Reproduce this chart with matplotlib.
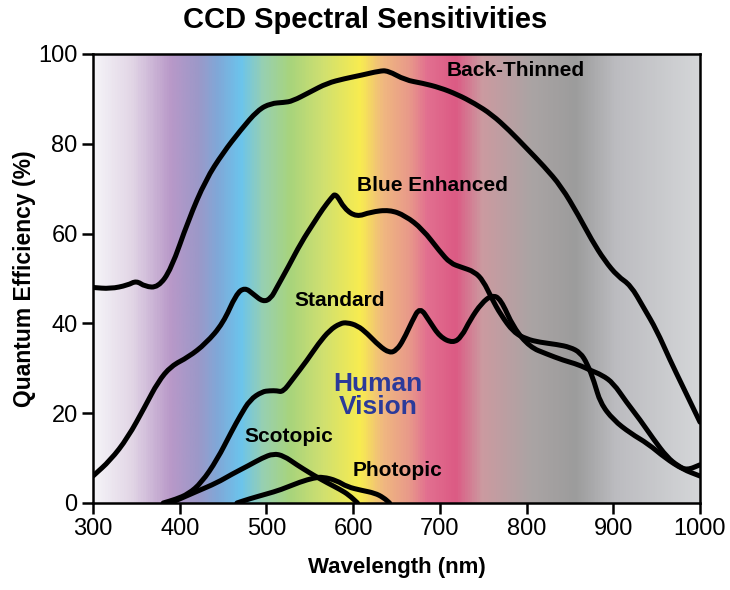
import numpy as np
import matplotlib
matplotlib.use("Agg")
import matplotlib.pyplot as plt
from matplotlib.colors import LinearSegmentedColormap
from matplotlib.path import Path
from matplotlib.patches import PathPatch

plt.rcParams['font.family'] = ['Liberation Sans', 'DejaVu Sans']

# === DATA ===
bt_wl = [300, 320, 340, 350, 360, 375, 390, 410, 430, 450, 470, 490, 505, 520, 530, 550, 570,
         590, 610, 630, 640, 660, 680, 700, 720, 740, 760, 780, 800, 820, 840, 860, 875, 890,
         905, 920, 935, 950, 965, 980, 1000]
bt_qe = [48, 47.7, 48.5, 49.5, 48.2, 48, 52, 63, 72, 78, 83, 87.5, 89, 89.2, 89.5, 91.5, 93.5,
         94.5, 95.3, 96.2, 96.3, 94.2, 93.5, 92.5, 91, 89, 86.5, 83, 79, 75, 70.5, 64, 58.6, 54,
         50.5, 48.5, 43.5, 38.5, 32, 26, 18]

be_wl = [300, 320, 340, 360, 375, 390, 410, 430, 450, 465, 475, 485, 496, 505, 512, 525, 540,
         555, 565, 575, 580, 590, 604, 620, 642, 660, 680, 700, 712, 725, 740, 750, 760, 770,
         785, 800, 815, 835, 850, 862, 870, 878, 885, 900, 920, 940, 960, 980, 1000]
be_qe = [6, 9.5, 14.5, 21.5, 27, 30.5, 32.5, 35.5, 40, 46.5, 48, 46.5, 44.8, 45.5, 48, 52.5, 58,
         62.5, 65.5, 68, 69, 65.5, 63.7, 64.8, 65.3, 64, 61, 56, 53.4, 52.5, 51.5, 49.5, 45.5,
         42, 38, 36.5, 35.8, 35.3, 34.7, 33.5, 31, 27, 22.3, 18.5, 15.5, 13.2, 10, 7.5, 6]

st_wl = [381, 395, 410, 425, 443, 460, 470, 481, 495, 504, 512, 519, 530, 547, 560, 573, 585,
         593, 605, 616, 630, 642, 650, 658, 668, 677, 688, 700, 715, 725, 735, 748, 760, 770,
         785, 804, 823, 842, 860, 873, 887, 900, 915, 931, 946, 962, 975, 985, 1000]
st_qe = [0, 0.8, 2, 4.5, 9.6, 16, 19.5, 23, 24.8, 25, 25, 24.7, 27.5, 31.8, 35.5, 38.5, 40,
         40.2, 39.5, 37.8, 35, 33.4, 34, 36.3, 40.5, 43.7, 40.5, 37, 35.6, 37, 40.8, 44.5, 46.3,
         45.5, 39, 34.7, 33.2, 31.8, 30.8, 29.6, 28.5, 26.7, 22.5, 18.5, 14.3, 10.2, 8.2, 7.3, 8.5]

sc_wl = [389, 400, 420, 443, 460, 480, 495, 508, 520, 535, 550, 558, 570, 585, 595, 605]
sc_qe = [0, 0.9, 2.6, 4.5, 6.4, 8.4, 10, 11, 10.5, 8.5, 6.7, 5.8, 4.5, 3, 1.8, 0]

ph_wl = [466, 480, 500, 516, 539, 555, 565, 581, 593, 610, 625, 635, 642]
ph_qe = [0, 0.9, 2, 2.9, 4.7, 5.6, 5.8, 5.0, 3.6, 2.8, 2.2, 1.2, 0]

# background spectrum colour stops (wavelength, colour)
bg_wl = [300, 343, 389, 420, 443, 470, 496, 527, 565, 608, 634, 666, 685, 719, 749, 807, 858,
         905, 1000]
bg_col = ["#f5f4f8", "#e2d6e6", "#b898c8", "#9c98c8", "#80a8d8", "#6cc4ec", "#98d0b0",
          "#a8d47c", "#d0e070", "#f8ec50", "#f0b880", "#e8988a", "#e27090", "#dc5a84",
          "#cc9aa0", "#aaa4a4", "#9c9c9c", "#bcbcc0", "#d4d6d8"]


def smooth_curve(ax, x, y):
    # quadratic spline through the midpoints, data points act as control points
    verts = [(x[0], y[0]), ((x[0] + x[1]) / 2, (y[0] + y[1]) / 2)]
    codes = [Path.MOVETO, Path.LINETO]
    for i in range(1, len(x) - 1):
        verts += [(x[i], y[i]), ((x[i] + x[i + 1]) / 2, (y[i] + y[i + 1]) / 2)]
        codes += [Path.CURVE3, Path.CURVE3]
    verts.append((x[-1], y[-1]))
    codes.append(Path.LINETO)
    ax.add_patch(PathPatch(Path(verts, codes), fill=False, lw=3.6, ec="black",
                           capstyle="round", joinstyle="round", zorder=3))


# === PLOT ===
fig = plt.figure(figsize=(7.3, 5.9), dpi=100)
ax = fig.add_axes([0.1274, 0.1475, 0.8315, 0.761])

stops = [(w - 300) / 700 for w in bg_wl]
cmap = LinearSegmentedColormap.from_list("spectrum", list(zip(stops, bg_col)))
grad = np.linspace(0, 1, 700).reshape(1, -1)
ax.imshow(grad, cmap=cmap, aspect="auto", extent=[300, 1000, 0, 100], zorder=0)

for wl, qe in [(bt_wl, bt_qe), (be_wl, be_qe), (st_wl, st_qe), (sc_wl, sc_qe), (ph_wl, ph_qe)]:
    smooth_curve(ax, wl, qe)

ax.set_xlim(300, 1000)
ax.set_ylim(0, 100)
ax.set_xticks(range(300, 1001, 100))
ax.set_yticks(range(0, 101, 20))
ax.tick_params(direction="out", length=8, width=1.8, labelsize=17, pad=3)
for s in ax.spines.values():
    s.set_linewidth(1.8)

ax.set_xlabel("Wavelength (nm)", fontsize=16, fontweight="bold", labelpad=12)
ax.set_ylabel("Quantum Efficiency (%)", fontsize=16.5, fontweight="bold", labelpad=2)
fig.suptitle("CCD Spectral Sensitivities", fontsize=21, fontweight="bold", y=0.99)

lbl = dict(fontsize=15, fontweight="bold", ha="center", va="center", zorder=4)
ax.text(788, 96.4, "Back-Thinned", **lbl)
ax.text(691, 70.6, "Blue Enhanced", **lbl)
ax.text(585, 45, "Standard", **lbl)
ax.text(526, 14.7, "Scotopic", **lbl)
ax.text(651, 7.3, "Photopic", **lbl)
ax.text(629, 24, "Human\nVision", fontsize=19, fontweight="bold", color="#2b3a9a",
        ha="center", va="center", linespacing=0.95, zorder=4)

fig.savefig("out.png", dpi=100)
